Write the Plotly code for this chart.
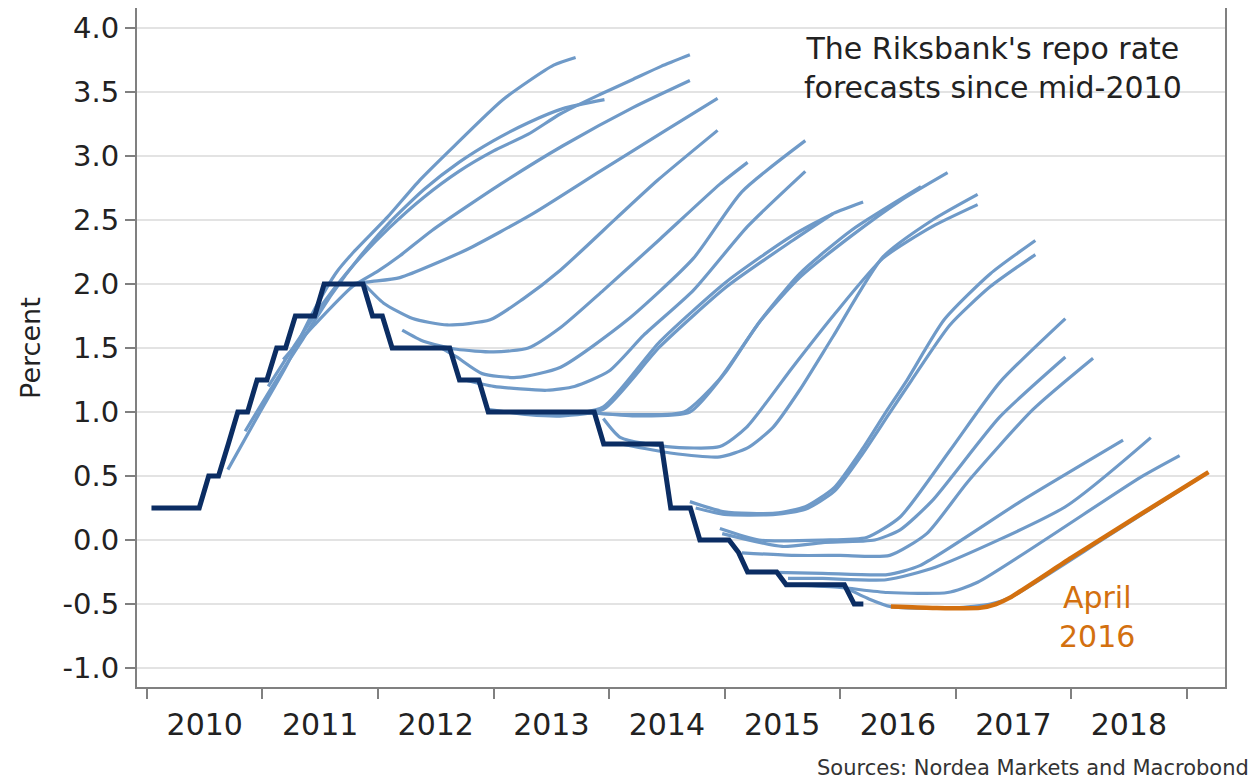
import pandas as pd
import plotly.graph_objects as go

# realised repo rate, monthly Jan 2010 - Mar 2016 (percent)
repo_months = pd.date_range("2010-01-01", "2016-03-01", freq="MS") + pd.Timedelta(days=14)
repo_rate = [
    0.25, 0.25, 0.25, 0.25, 0.25, 0.25, 0.50, 0.50, 0.75, 1.00, 1.00, 1.25,
    1.25, 1.50, 1.50, 1.75, 1.75, 1.75, 2.00, 2.00, 2.00, 2.00, 2.00, 1.75,
    1.75, 1.50, 1.50, 1.50, 1.50, 1.50, 1.50, 1.50, 1.25, 1.25, 1.25, 1.00,
    1.00, 1.00, 1.00, 1.00, 1.00, 1.00, 1.00, 1.00, 1.00, 1.00, 1.00, 0.75,
    0.75, 0.75, 0.75, 0.75, 0.75, 0.75, 0.25, 0.25, 0.25, 0.00, 0.00, 0.00,
    0.00, -0.10, -0.25, -0.25, -0.25, -0.25, -0.35, -0.35, -0.35, -0.35, -0.35, -0.35,
    -0.35, -0.50, -0.50,
]

# published forecast paths, x in decimal years, y in percent
forecast_names = [
    "Jul 2010", "Oct 2010", "Feb 2011", "Jul 2011", "Oct 2011", "Dec 2011",
    "Feb 2012", "Jul 2012", "Oct 2012", "Dec 2012", "Feb 2013", "Jul 2013",
    "Oct 2013", "Dec 2013", "Feb 2014", "Jul 2014", "Sep 2014", "Oct 2014",
    "Dec 2014", "Feb 2015", "Apr 2015", "Jul 2015", "Dec 2015", "Feb 2016",
]
forecast_t = [
    [2010.70, 2010.96, 2011.20, 2011.45, 2011.64, 2011.78, 2012.08, 2012.36, 2012.65, 2013.08, 2013.52, 2013.71],
    [2010.85, 2011.10, 2011.35, 2011.60, 2011.85, 2012.10, 2012.40, 2012.70, 2013.00, 2013.30, 2013.60, 2013.96],
    [2011.05, 2011.30, 2011.55, 2011.80, 2012.10, 2012.40, 2012.70, 2013.00, 2013.30, 2013.58, 2013.92, 2014.21, 2014.45, 2014.70],
    [2011.18, 2011.45, 2011.78, 2012.00, 2012.19, 2012.47, 2013.06, 2013.60, 2014.21, 2014.70],
    [2011.75, 2011.95, 2012.19, 2012.77, 2013.34, 2013.92, 2014.49, 2014.94],
    [2011.88, 2012.05, 2012.30, 2012.60, 2012.97, 2013.25, 2013.58, 2014.07, 2014.42, 2014.94],
    [2012.21, 2012.40, 2012.68, 2013.00, 2013.30, 2013.58, 2013.95, 2014.44, 2014.96, 2015.20],
    [2012.55, 2012.68, 2012.90, 2013.20, 2013.58, 2014.16, 2014.73, 2015.15, 2015.70],
    [2012.75, 2013.00, 2013.46, 2013.70, 2014.00, 2014.30, 2014.73, 2015.20, 2015.70],
    [2012.96, 2013.30, 2013.60, 2013.95, 2014.44, 2015.02, 2015.59, 2015.94],
    [2013.20, 2013.60, 2013.95, 2014.44, 2015.02, 2015.59, 2015.94, 2016.20],
    [2013.60, 2014.20, 2014.65, 2014.95, 2015.30, 2015.65, 2016.10, 2016.70],
    [2013.80, 2014.20, 2014.70, 2015.00, 2015.30, 2015.65, 2016.09, 2016.52, 2016.93],
    [2013.95, 2014.10, 2014.50, 2014.96, 2015.19, 2015.59, 2015.94, 2016.37, 2016.80, 2017.19],
    [2014.10, 2014.53, 2014.96, 2015.20, 2015.42, 2015.65, 2015.94, 2016.37, 2016.80, 2017.19],
    [2014.70, 2015.00, 2015.44, 2015.70, 2015.95, 2016.20, 2016.39, 2016.58, 2016.90, 2017.30, 2017.69],
    [2014.75, 2015.00, 2015.44, 2015.70, 2015.95, 2016.20, 2016.42, 2016.62, 2016.95, 2017.30, 2017.69],
    [2014.96, 2015.30, 2015.85, 2016.23, 2016.52, 2016.95, 2017.38, 2017.95],
    [2014.98, 2015.50, 2015.85, 2016.30, 2016.52, 2016.80, 2017.38, 2017.95],
    [2015.15, 2015.60, 2016.00, 2016.43, 2016.75, 2017.10, 2017.67, 2018.19],
    [2015.30, 2015.85, 2016.41, 2016.69, 2017.56, 2018.45],
    [2015.55, 2015.85, 2016.40, 2016.83, 2017.95, 2018.69],
    [2015.62, 2016.00, 2016.41, 2016.93, 2017.19, 2018.60, 2018.94],
    [2016.04, 2016.25, 2016.44, 2017.00, 2017.30, 2017.47, 2018.30, 2019.10],
]
forecast_v = [
    [0.55, 0.97, 1.35, 1.80, 2.09, 2.24, 2.52, 2.81, 3.07, 3.44, 3.71, 3.77],
    [0.85, 1.22, 1.57, 1.92, 2.22, 2.48, 2.74, 2.95, 3.12, 3.26, 3.37, 3.44],
    [1.20, 1.55, 1.88, 2.16, 2.44, 2.68, 2.88, 3.04, 3.17, 3.33, 3.48, 3.60, 3.70, 3.79],
    [1.41, 1.68, 1.98, 2.10, 2.22, 2.42, 2.78, 3.08, 3.38, 3.59],
    [2.00, 2.02, 2.05, 2.27, 2.55, 2.88, 3.20, 3.45],
    [2.00, 1.85, 1.73, 1.68, 1.72, 1.88, 2.11, 2.52, 2.81, 3.20],
    [1.64, 1.55, 1.49, 1.47, 1.50, 1.66, 1.95, 2.35, 2.78, 2.95],
    [1.50, 1.43, 1.30, 1.27, 1.35, 1.72, 2.20, 2.72, 3.12],
    [1.25, 1.20, 1.17, 1.20, 1.32, 1.60, 1.95, 2.45, 2.88],
    [1.02, 0.98, 0.97, 1.02, 1.51, 1.98, 2.34, 2.55],
    [1.00, 0.98, 1.04, 1.55, 2.02, 2.38, 2.55, 2.64],
    [1.00, 0.98, 1.00, 1.25, 1.70, 2.08, 2.42, 2.76],
    [1.00, 0.97, 1.00, 1.30, 1.70, 2.05, 2.37, 2.65, 2.87],
    [0.95, 0.80, 0.73, 0.73, 0.88, 1.35, 1.75, 2.20, 2.45, 2.62],
    [0.75, 0.68, 0.65, 0.72, 0.88, 1.17, 1.59, 2.21, 2.50, 2.70],
    [0.30, 0.22, 0.21, 0.26, 0.41, 0.72, 0.99, 1.25, 1.72, 2.08, 2.34],
    [0.25, 0.20, 0.20, 0.24, 0.38, 0.68, 0.98, 1.25, 1.68, 1.98, 2.23],
    [0.09, 0.00, 0.00, 0.02, 0.18, 0.70, 1.23, 1.73],
    [0.05, -0.05, -0.02, 0.00, 0.08, 0.31, 0.96, 1.43],
    [-0.10, -0.12, -0.12, -0.12, 0.05, 0.45, 1.02, 1.42],
    [-0.25, -0.26, -0.27, -0.20, 0.30, 0.78],
    [-0.30, -0.30, -0.31, -0.21, 0.26, 0.80],
    [-0.35, -0.37, -0.41, -0.41, -0.33, 0.49, 0.66],
    [-0.37, -0.46, -0.52, -0.53, -0.50, -0.45, 0.02, 0.48],
]

# latest forecast, April 2016
april_t = [2016.44, 2016.80, 2017.21, 2017.35, 2017.47, 2018.00, 2018.60, 2019.19]
april_v = [-0.52, -0.53, -0.53, -0.50, -0.45, -0.14, 0.20, 0.53]

y_ticks = [-1.0, -0.5, 0.0, 0.5, 1.0, 1.5, 2.0, 2.5, 3.0, 3.5, 4.0]
y_tick_text = ["-1.0", "-0.5", "0.0", "0.5", "1.0", "1.5", "2.0", "2.5", "3.0", "3.5", "4.0"]

LIGHT = "#6f9ac8"
NAVY = "#0b2d63"
ORANGE = "#d3700f"
AXIS = "#808080"
FONT = "DejaVu Sans"


def to_date(t):
    year = int(t)
    start = pd.Timestamp(year=year, month=1, day=1)
    end = pd.Timestamp(year=year + 1, month=1, day=1)
    return start + (end - start) * (t - year)


fig = go.Figure()

for name, ts, vs in zip(forecast_names, forecast_t, forecast_v):
    fig.add_trace(
        go.Scatter(
            x=[to_date(t) for t in ts],
            y=vs,
            name=name,
            mode="lines",
            line=dict(color=LIGHT, width=3.2, shape="spline", smoothing=0.6),
        )
    )

fig.add_trace(
    go.Scatter(
        x=repo_months,
        y=repo_rate,
        name="Repo rate",
        mode="lines",
        line=dict(color=NAVY, width=5),
    )
)

fig.add_trace(
    go.Scatter(
        x=[to_date(t) for t in april_t],
        y=april_v,
        name="April 2016",
        mode="lines",
        line=dict(color=ORANGE, width=4.5, shape="spline", smoothing=0.6),
    )
)

fig.add_annotation(
    text="The Riksbank's repo rate<br>forecasts since mid-2010",
    xref="paper", yref="paper", x=0.787, y=0.911,
    xanchor="center", yanchor="middle", showarrow=False,
    font=dict(family=FONT, size=30, color="#222222"),
)
fig.add_annotation(
    text="April<br>2016",
    xref="paper", yref="paper", x=0.882, y=0.103,
    xanchor="center", yanchor="middle", showarrow=False,
    font=dict(family=FONT, size=30, color=ORANGE),
)
fig.add_annotation(
    text="Sources: Nordea Markets and Macrobond",
    xref="paper", yref="paper", x=1.024, y=-0.119,
    xanchor="right", yanchor="middle", showarrow=False,
    font=dict(family=FONT, size=21, color="#333333"),
)
fig.add_annotation(
    text="Percent",
    xref="paper", yref="paper", x=-0.098, y=0.5,
    xanchor="center", yanchor="middle", textangle=-90, showarrow=False,
    font=dict(family=FONT, size=27, color="#222222"),
)

fig.update_layout(
    width=1256,
    height=782,
    margin=dict(l=137, r=31, t=8, b=95),
    paper_bgcolor="white",
    plot_bgcolor="white",
    showlegend=False,
    font=dict(family=FONT, color="#222222"),
    xaxis=dict(
        type="date",
        range=[to_date(2009.913), to_date(2019.333)],
        tick0="2010-01-01",
        dtick="M12",
        tickformat="%Y",
        ticklabelmode="period",
        ticks="outside",
        ticklen=10,
        tickwidth=2,
        tickcolor=AXIS,
        showline=True,
        linecolor=AXIS,
        linewidth=2,
        showgrid=False,
        tickfont=dict(size=30, color="#222222"),
    ),
    yaxis=dict(
        range=[-1.148, 4.156],
        tickvals=y_ticks,
        ticktext=y_tick_text,
        ticks="outside",
        ticklen=10,
        tickwidth=2,
        tickcolor=AXIS,
        showline=True,
        mirror=True,
        linecolor=AXIS,
        linewidth=2,
        showgrid=True,
        gridcolor="#e3e3e3",
        gridwidth=2,
        zeroline=False,
        tickfont=dict(size=29, color="#222222"),
    ),
)

# drop the browser's default page margin so the figure sits at the top-left corner
fig.write_html(
    "out.html",
    config={"displayModeBar": False},
    post_script="document.body.style.margin = '0';",
)
